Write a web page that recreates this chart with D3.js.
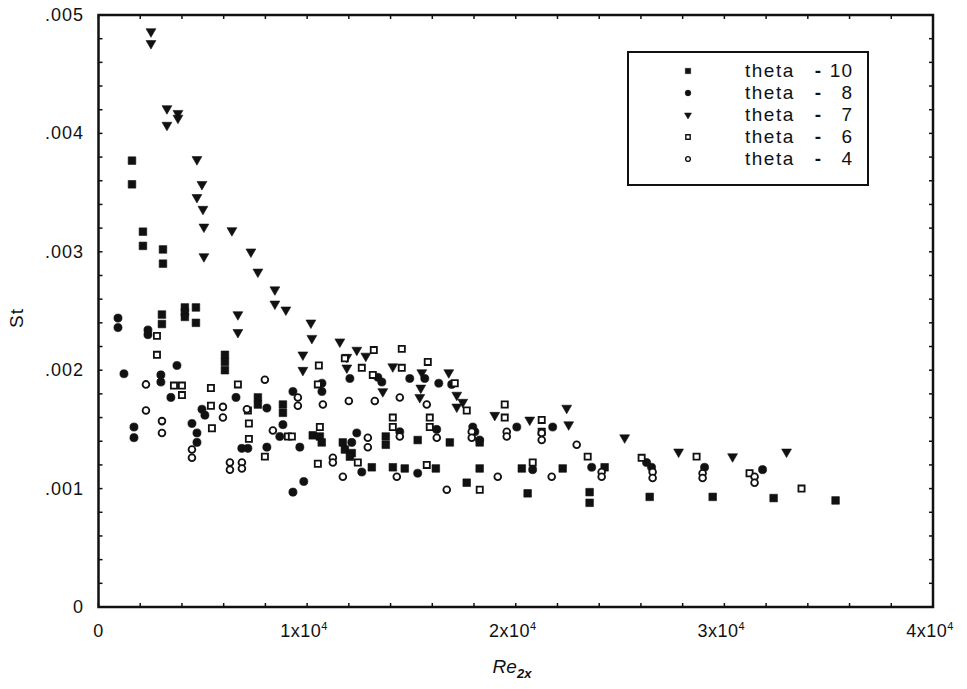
<!DOCTYPE html>
<html>
<head>
<meta charset="utf-8">
<script src="https://cdn.jsdelivr.net/npm/d3@7"></script>
<style>
  body { margin: 0; background: #fff; }
  svg { display: block; }
  text { font-family: 'Liberation Sans', Arial, sans-serif; fill: #111; }
</style>
</head>
<body>
<svg id="chart" width="967" height="689"></svg>
<script>
// values: [Re2x, St]
const theta10 = [
  [1605,.00377],[1605,.00357],[2130,.00317],[2130,.00305],[3090,.00302],[3090,.00290],
  [3040,.00247],[3040,.00239],[4140,.00253],[4140,.00249],[4140,.00245],[4670,.00253],
  [4670,.00240],[6060,.00213],[6060,.00207],[6060,.00200],[7640,.00177],[7640,.00171],
  [8840,.00171],[8840,.00164],[10270,.00145],[10610,.00144],[10700,.00139],[11710,.00139],
  [11810,.00133],[12140,.00130],[12050,.00127],[13770,.00144],[13770,.00137],[15300,.00141],
  [16840,.00139],[18270,.00139],[13100,.00118],[14110,.00118],[14680,.00117],[16170,.00117],
  [18270,.00117],[20290,.00117],[22250,.00117],[24260,.00118],[17650,.00105],[20570,.00096],
  [23540,.00097],[23540,.00088],[26420,.00093],[29440,.00093],[32360,.00092],[35330,.00090]
];
const theta8 = [
  [934,.00244],[934,.00236],[1220,.00197],[2370,.00234],[2370,.00230],[2990,.00196],
  [2990,.00190],[3470,.00177],[3760,.00204],[1700,.00152],[1700,.00143],[4480,.00155],
  [4720,.00147],[4720,.00139],[4960,.00167],[5100,.00162],[6590,.00177],[6870,.00134],
  [7160,.00134],[8070,.00168],[8070,.00135],[8840,.00154],[8690,.00144],[9320,.00182],
  [9320,.00097],[9840,.00106],[9650,.00135],[10710,.00189],[10710,.00182],[12050,.00193],
  [13390,.00194],[13580,.00190],[14920,.00193],[15640,.00193],[16310,.00189],[16930,.00188],
  [12380,.00147],[12140,.00139],[14440,.00148],[16210,.00150],[12620,.00114],[15300,.00113],
  [17940,.00152],[18040,.00148],[18270,.00141],[20050,.00152],[21770,.00152],[20810,.00116],
  [23640,.00118],[26270,.00122],[26510,.00118],[29050,.00118],[31830,.00116]
];
const theta7 = [
  [2515,.00486],[2515,.00476],[3281,.00421],[3281,.00407],[3808,.00417],[3808,.00413],
  [4718,.00378],[4958,.00357],[4718,.00346],[5006,.00336],[5053,.00321],[5053,.00296],
  [6395,.00318],[7305,.00300],[7640,.00283],[8454,.00268],[8454,.00256],[8981,.00251],
  [6682,.00247],[6682,.00232],[10180,.00240],[10227,.00227],[11568,.00224],[9796,.00213],
  [9796,.00200],[11903,.00211],[12382,.00217],[12813,.00212],[11903,.00202],[13627,.00182],
  [14106,.00203],[15496,.00198],[15448,.00185],[15400,.00177],[16789,.00198],[17173,.00179],
  [17460,.00173],[17173,.00169],[18993,.00162],[20670,.00158],[22442,.00168],[22537,.00154],
  [25220,.00143],[27806,.00131],[30393,.00127],[32980,.00131]
];
const theta6 = [
  [2802,.00229],[2802,.00213],[3617,.00187],[4000,.00187],[4000,.00179],[5389,.00185],
  [5389,.00170],[5437,.00151],[6682,.00188],[7161,.00166],[7209,.00155],[7209,.00142],
  [7975,.00127],[9077,.00144],[9269,.00144],[10514,.00188],[10562,.00204],[10610,.00152],
  [10514,.00121],[11808,.00210],[12621,.00202],[13196,.00217],[13148,.00196],[14537,.00218],
  [14537,.00202],[15783,.00207],[17077,.00189],[17652,.00166],[19472,.00171],[19472,.00160],
  [21244,.00158],[21244,.00148],[15879,.00160],[15879,.00152],[14106,.00160],[14106,.00152],
  [12430,.00122],[15735,.00120],[18274,.00099],[20813,.00122],[23448,.00127],[26034,.00126],
  [28668,.00127],[31207,.00113],[33698,.00100]
];
const theta4 = [
  [2275,.00188],[2275,.00166],[3042,.00157],[3042,.00147],[4479,.00133],[4479,.00126],
  [5964,.00169],[5964,.00160],[6299,.00122],[6299,.00116],[6874,.00122],[6874,.00117],
  [7113,.00167],[7975,.00192],[8358,.00149],[9556,.00177],[9556,.00170],[10754,.00171],
  [11999,.00174],[13244,.00174],[14442,.00177],[15735,.00171],[12909,.00143],[12909,.00135],
  [14442,.00144],[16214,.00143],[17891,.00148],[17891,.00143],[19568,.00148],[19568,.00144],
  [21244,.00147],[21244,.00141],[22921,.00137],[11233,.00126],[11233,.00122],[11712,.00110],
  [14298,.00110],[16693,.00099],[19137,.00110],[21723,.00110],[24118,.00114],[24118,.00110],
  [26561,.00114],[26561,.00109],[28956,.00113],[28956,.00109],[31447,.00110],[31447,.00105]
];

const legendNumbers = ['10', '8', '7', '6', '4'];
const yTicks = [0, .001, .002, .003, .004, .005];
const xTicks = [0, 10000, 20000, 30000, 40000];

const svg = d3.select('#chart');
const x = d3.scaleLinear().domain([0, 40000]).range([98.5, 933]);
const y = d3.scaleLinear().domain([0, 0.005]).range([607, 15]);

// marker shapes
const shapes = [
  { data: theta10, sym: d3.symbolSquare, size: 58, rot: 0, filled: true },
  { data: theta8, sym: d3.symbolCircle, size: 52, rot: 0, filled: true },
  { data: theta7, sym: d3.symbolTriangle, size: 42, rot: 180, filled: true },
  { data: theta6, sym: d3.symbolSquare, size: 38, rot: 0, filled: false },
  { data: theta4, sym: d3.symbolCircle, size: 36, rot: 0, filled: false }
];

// inward ticks on every side
const tickG = svg.append('g').attr('stroke', '#111').attr('stroke-width', 1.5);
d3.range(0, 0.00501, 0.0002).forEach(v => {
  tickG.append('line').attr('x1', x(0)).attr('x2', x(0) + 4).attr('y1', y(v)).attr('y2', y(v));
  tickG.append('line').attr('x1', x(40000)).attr('x2', x(40000) - 4).attr('y1', y(v)).attr('y2', y(v));
});
d3.range(0, 40001, 2000).forEach(v => {
  tickG.append('line').attr('x1', x(v)).attr('x2', x(v)).attr('y1', y(0)).attr('y2', y(0) - 4);
  tickG.append('line').attr('x1', x(v)).attr('x2', x(v)).attr('y1', y(0.005)).attr('y2', y(0.005) + 4);
});

// frame
svg.append('rect')
  .attr('x', x(0)).attr('y', y(0.005))
  .attr('width', x(40000) - x(0)).attr('height', y(0) - y(0.005))
  .attr('fill', 'none').attr('stroke', '#111').attr('stroke-width', 2.5);

// y tick labels
svg.append('g').selectAll('text').data(yTicks).enter().append('text')
  .attr('x', 84).attr('y', d => y(d) + 6)
  .attr('text-anchor', 'end')
  .style('font-size', '18px').style('letter-spacing', '1px')
  .text(d => d === 0 ? '0' : d3.format('.3f')(d).replace(/^0/, ''));

// x tick labels
const xl = svg.append('g').selectAll('text').data(xTicks).enter().append('text')
  .attr('x', d => x(d) + (d === 0 ? 0 : -3)).attr('y', 637)
  .attr('text-anchor', 'middle')
  .style('font-size', '18px').style('letter-spacing', '0.5px');
xl.each(function(d) {
  const t = d3.select(this);
  if (d === 0) { t.text('0'); return; }
  t.append('tspan').text((d / 10000) + 'x10');
  t.append('tspan').attr('dy', -7).style('font-size', '11px').text('4');
});

// axis titles
svg.append('text')
  .attr('transform', 'translate(23,318) rotate(-90)')
  .attr('text-anchor', 'middle')
  .style('font-size', '19px').style('letter-spacing', '1px')
  .text('St');

const xt = svg.append('text')
  .attr('x', 512).attr('y', 673)
  .attr('text-anchor', 'middle')
  .style('font-size', '19px')
  .style('font-style', 'italic');
xt.append('tspan').text('Re');
xt.append('tspan').attr('dy', 5).style('font-size', '13px').style('font-weight', 'bold').text('2x');

// points
shapes.forEach(s => {
  svg.append('g').selectAll('path').data(s.data).enter().append('path')
    .attr('d', d3.symbol().type(s.sym).size(s.size))
    .attr('transform', d => `translate(${x(d[0])},${y(d[1])}) rotate(${s.rot})`)
    .attr('fill', s.filled ? '#111' : '#fff')
    .attr('stroke', '#111')
    .attr('stroke-width', s.filled ? 0.6 : 1.8);
});

// legend
const legend = svg.append('g');
legend.append('rect')
  .attr('x', 628).attr('y', 52).attr('width', 240).attr('height', 133)
  .attr('fill', '#fff').attr('stroke', '#111').attr('stroke-width', 2);

legendNumbers.forEach((num, i) => {
  const cy = 71 + i * 22;
  const s = shapes[i];
  legend.append('path')
    .attr('d', d3.symbol().type(s.sym).size(s.size * 0.5))
    .attr('transform', `translate(688,${cy}) rotate(${s.rot})`)
    .attr('fill', s.filled ? '#111' : '#fff')
    .attr('stroke', '#111')
    .attr('stroke-width', s.filled ? 0.5 : 1.4);
  legend.append('text').attr('x', 745).attr('y', cy + 6)
    .style('font-size', '19px').style('letter-spacing', '1.5px').text('theta');
  legend.append('text').attr('x', 818).attr('y', cy + 6)
    .attr('text-anchor', 'middle').style('font-size', '19px').style('font-weight', 'bold').text('-');
  legend.append('text').attr('x', 853).attr('y', cy + 6)
    .attr('text-anchor', 'end').style('font-size', '19px').style('letter-spacing', '1px').text(num);
});
</script>
</body>
</html>
